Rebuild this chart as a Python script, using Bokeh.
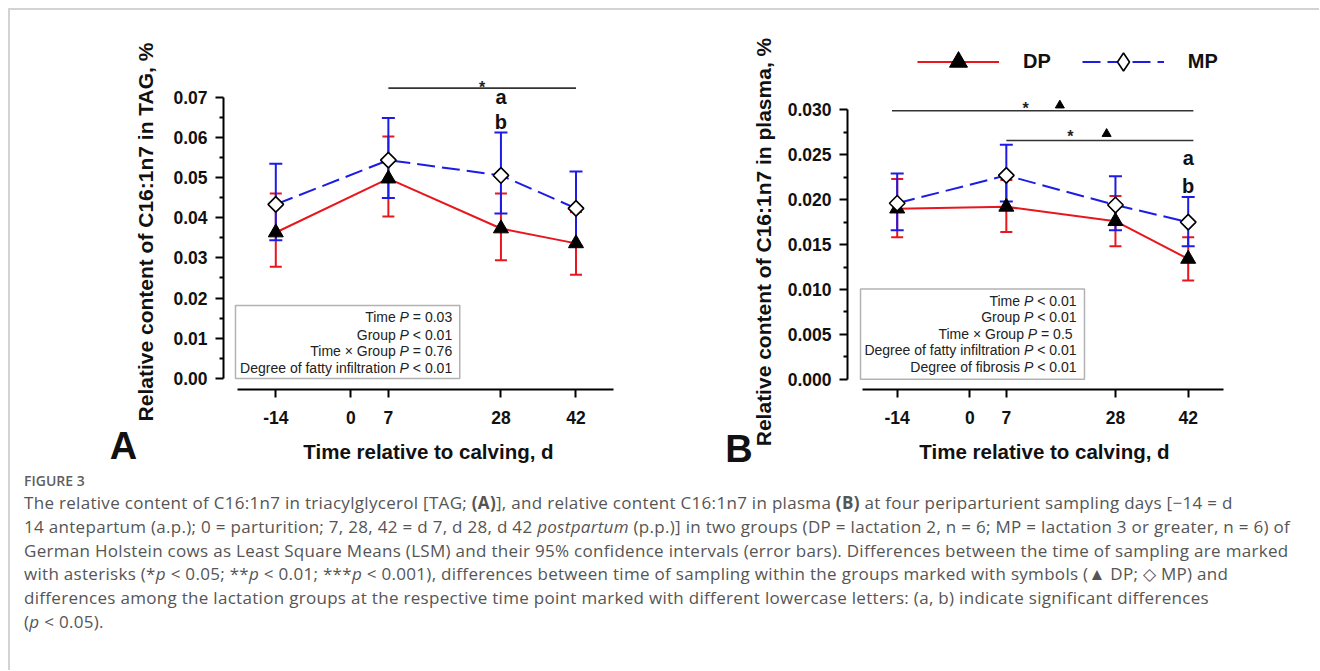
import math
from bokeh.plotting import figure
from bokeh.models import (ColumnDataSource, Whisker, TeeHead, FixedTicker, NumeralTickFormatter,
                          BoxAnnotation, Legend, LegendItem, Div, Range1d)
from bokeh.layouts import column, row
from bokeh.core.properties import value
from bokeh.embed import file_html
from bokeh.resources import INLINE

# ---------------- data ----------------
days = [-14, 7, 28, 42]
x_ticks = [-14, 0, 7, 28, 42]
x_tick_labels = {-14: "-14", 0: "0", 7: "7", 28: "28", 42: "42"}

# Panel A: C16:1n7 in TAG, %
a_dp = [0.0363, 0.0497, 0.0373, 0.0336]
a_dp_lo = [0.0278, 0.0403, 0.0294, 0.0258]
a_dp_hi = [0.0460, 0.0602, 0.0460, 0.0414]
a_mp = [0.0433, 0.0543, 0.0505, 0.0423]
a_mp_lo = [0.0344, 0.0449, 0.0410, 0.0330]
a_mp_hi = [0.0534, 0.0648, 0.0612, 0.0515]
a_yticks = [0.00, 0.01, 0.02, 0.03, 0.04, 0.05, 0.06, 0.07]
a_yminor = [0.005, 0.015, 0.025, 0.035, 0.045, 0.055, 0.065]
a_stats_pre = ["Time", "Group", "Time × Group", "Degree of fatty infiltration"]
a_stats_suf = ["= 0.03", "< 0.01", "= 0.76", "< 0.01"]
a_sig_x = [7, 42]
a_sig_y = 0.0722
a_letters = ["a", "b"]
a_letter_y = [0.07005, 0.06371]
a_ylabel = "Relative content of C16:1n7 in TAG, %"

# Panel B: C16:1n7 in plasma, %
b_dp = [0.0190, 0.0192, 0.0176, 0.0134]
b_dp_lo = [0.0158, 0.0164, 0.0148, 0.0110]
b_dp_hi = [0.0223, 0.0222, 0.0204, 0.0158]
b_mp = [0.0196, 0.0227, 0.0194, 0.0175]
b_mp_lo = [0.0166, 0.0198, 0.0166, 0.0148]
b_mp_hi = [0.0229, 0.0261, 0.0226, 0.0203]
b_yticks = [0.000, 0.005, 0.010, 0.015, 0.020, 0.025, 0.030]
b_yminor = [0.0025, 0.0075, 0.0125, 0.0175, 0.0225, 0.0275]
b_stats_pre = ["Time", "Group", "Time × Group", "Degree of fatty infiltration", "Degree of fibrosis"]
b_stats_suf = ["< 0.01", "< 0.01", "= 0.5\u00a0", "< 0.01", "< 0.01"]
b_sig1_x = [-15, 43]
b_sig1_y = 0.0299
b_sig2_x = [7, 43]
b_sig2_y = 0.02658
b_letters = ["a", "b"]
b_letter_y = [0.02467, 0.0215]
b_ylabel = "Relative content of C16:1n7 in plasma, %"

RED = "#e8161d"
BLUE = "#1c1ce6"
FONT = "Liberation Sans"
FRAME = "#d3d3d3"

# Arial / Liberation Sans advance widths (1/1000 em) for right-aligned mixed-style text
AW = {' ': 278, '\u00a0': 278, '=': 584, '<': 584, '.': 278, '×': 584, 'P': 667, 'T': 611, 'i': 222,
      'm': 833, 'e': 556, 'G': 778, 'r': 333, 'o': 556, 'u': 556, 'p': 556, 'D': 722, 'g': 556,
      'f': 278, 'a': 556, 't': 278, 'y': 500, 'n': 556, 'l': 222, 's': 500, 'b': 556}
for d in "0123456789":
    AW[d] = 556


def tw(s, size=14.0):
    return sum(AW.get(c, 556) for c in s) / 1000.0 * size


def make_fig(xr, yr, w, h, mbl, mbr, mbt, mbb):
    p = figure(width=w, height=h, x_range=Range1d(*xr), y_range=Range1d(*yr), title=None,
               output_backend="svg", toolbar_location=None, margin=0,
               min_border_left=mbl, min_border_right=mbr, min_border_top=mbt, min_border_bottom=mbb)
    p.outline_line_color = None
    p.xgrid.visible = False
    p.ygrid.visible = False
    p.background_fill_color = "white"
    p.border_fill_color = "white"
    return p


def style_axes(p, yticks, yminor, yfmt, ybounds, xbounds):
    xa = p.xaxis[0]
    ya = p.yaxis[0]
    for ax in (xa, ya):
        ax.axis_line_width = 2
        ax.axis_line_color = "black"
        ax.major_tick_line_width = 2
        ax.major_tick_line_color = "black"
        ax.minor_tick_line_width = 2
        ax.minor_tick_line_color = "black"
        ax.major_tick_in = 0
        ax.major_tick_out = 8
        ax.minor_tick_in = 0
        ax.minor_tick_out = 4
        ax.major_label_text_font = FONT
        ax.major_label_text_font_style = "bold"
        ax.major_label_text_font_size = "17.5px"
        ax.major_label_text_color = "#111111"
        ax.axis_label_text_font = FONT
        ax.axis_label_text_font_style = "bold"
        ax.axis_label_text_color = "#111111"
    xa.ticker = FixedTicker(ticks=x_ticks, minor_ticks=[])
    xa.major_label_overrides = x_tick_labels
    xa.bounds = xbounds
    xa.major_label_standoff = 13
    xa.axis_label = "Time relative to calving, d"
    xa.axis_label_text_font_size = "20.5px"
    xa.axis_label_standoff = 13
    ya.ticker = FixedTicker(ticks=yticks, minor_ticks=yminor)
    ya.formatter = NumeralTickFormatter(format=yfmt)
    ya.bounds = ybounds
    ya.major_label_standoff = 8


def draw_series(p, dp, dp_lo, dp_hi, mp, mp_lo, mp_hi):
    s_dp = ColumnDataSource(dict(x=days, y=dp, lo=dp_lo, hi=dp_hi))
    s_mp = ColumnDataSource(dict(x=days, y=mp, lo=mp_lo, hi=mp_hi))
    w_dp = Whisker(source=s_dp, base="x", lower="lo", upper="hi", line_color=RED, line_width=2,
                   lower_head=TeeHead(size=12, line_color=RED, line_width=2),
                   upper_head=TeeHead(size=12, line_color=RED, line_width=2), level="underlay")
    w_mp = Whisker(source=s_mp, base="x", lower="lo", upper="hi", line_color=BLUE, line_width=2,
                   lower_head=TeeHead(size=13, line_color=BLUE, line_width=2),
                   upper_head=TeeHead(size=13, line_color=BLUE, line_width=2), level="underlay")
    p.add_layout(w_dp)
    p.add_layout(w_mp)
    l_dp = p.line("x", "y", source=s_dp, line_color=RED, line_width=2)
    l_mp = p.line("x", "y", source=s_mp, line_color=BLUE, line_width=2, line_dash="18 7")
    m_dp = p.scatter("x", "y", source=s_dp, marker="triangle", size=15,
                     fill_color="black", line_color="black", line_width=1)
    # zero-size diamond glyph on the MP points: only used as the legend key
    # (legend markers are drawn unrotated, so the rotated square cannot serve as key)
    k_mp = p.scatter("x", "y", source=s_mp, marker="diamond", size=0,
                     fill_color="white", line_color="black", line_width=1.6)
    m_mp = p.scatter("x", "y", source=s_mp, marker="square", angle=math.pi / 4, size=11,
                     fill_color="white", line_color="black", line_width=1.6)
    return l_dp, m_dp, l_mp, k_mp


def draw_stats(p, x_right, ys, pre, suf, box):
    size = 14.0
    reg = dict(x=[], y=[], t=[], off=[])
    ita = dict(x=[], y=[], t=[], off=[])
    for yv, a, b in zip(ys, pre, suf):
        ws = tw(b, size)
        wsp = tw(" ", size)
        wp = tw("P", size)
        reg["x"] += [x_right, x_right]
        reg["y"] += [yv, yv]
        reg["t"] += [b, a]
        reg["off"] += [0, -(ws + 2 * wsp + wp)]
        ita["x"].append(x_right)
        ita["y"].append(yv)
        ita["t"].append("P")
        ita["off"].append(-(ws + wsp))
    p.text("x", "y", text="t", x_offset="off", source=ColumnDataSource(reg),
           text_font=value(FONT), text_font_size="14px", text_align="right",
           text_baseline="middle", text_color="#222222")
    p.text("x", "y", text="t", x_offset="off", source=ColumnDataSource(ita),
           text_font=value(FONT), text_font_size="14px", text_font_style="italic",
           text_align="right", text_baseline="middle", text_color="#222222")
    p.add_layout(BoxAnnotation(left=box[0], right=box[1], bottom=box[2], top=box[3],
                               fill_alpha=0, line_color="black", line_width=1.5))


def side_div(width, height, title, tx, ty, letter, lx, ltop, border_left):
    bl = "border-left:2px solid %s;" % FRAME if border_left else ""
    html = (
        '<div style="position:relative;box-sizing:border-box;width:%dpx;height:%dpx;%s'
        'font-family:\'Liberation Sans\';font-weight:bold;color:#111111;">'
        '<div style="position:absolute;left:%.1fpx;top:%.1fpx;transform:translate(-50%%,-50%%) rotate(-90deg);'
        'font-size:21px;line-height:21px;white-space:nowrap;">%s</div>'
        '<div style="position:absolute;left:%.1fpx;top:%.1fpx;transform:translateX(-50%%);'
        'font-size:38px;line-height:38px;white-space:nowrap;">%s</div>'
        '</div>'
    ) % (width, height, bl, tx, ty, title, lx, ltop, letter)
    return Div(text=html, width=width, height=height, margin=0)


PANEL_H = 444

# ---------------- Panel A ----------------
pA = make_fig((-23.756, 52.727), (-0.002735, 0.086537), 490, PANEL_H, 63, 17, 2, 83)
style_axes(pA, a_yticks, a_yminor, "0.00", (0, 0.07), (-21.2, 49.0))
draw_series(pA, a_dp, a_dp_lo, a_dp_hi, a_mp, a_mp_lo, a_mp_hi)
draw_stats(pA, 18.9, [0.01524, 0.01094, 0.00679, 0.00266], a_stats_pre, a_stats_suf,
           (-21.52, 20.32, 0.0, 0.01815))
pA.line(a_sig_x, [a_sig_y] * 2, line_color="#333333", line_width=1.6)
pA.text([sum(a_sig_x) / 2], [a_sig_y + 0.0002], text=["*"], text_font=value(FONT),
        text_font_size="16px", text_font_style="bold", text_align="center",
        text_baseline="middle", text_color="#222222")
pA.text([28, 28], a_letter_y, text=a_letters, text_font=value(FONT), text_font_size="20px",
        text_font_style="bold", text_align="center", text_baseline="middle", text_color="#111111")

# ---------------- Panel B ----------------
pB = make_fig((-23.564, 52.257), (-0.0011373, 0.038833), 539, PANEL_H, 67, 78, 2, 80)
style_axes(pB, b_yticks, b_yminor, "0.000", (0, 0.030), (-20.7, 48.85))
l_dp, m_dp, l_mp, k_mp = draw_series(pB, b_dp, b_dp_lo, b_dp_hi, b_mp, b_mp_lo, b_mp_hi)
draw_stats(pB, 20.5, [0.00876, 0.00692, 0.00508, 0.00325, 0.00140], b_stats_pre, b_stats_suf,
           (-21.06, 22.04, 0.0, 0.01004))
pB.line(b_sig1_x, [b_sig1_y] * 2, line_color="#333333", line_width=1.6)
pB.line(b_sig2_x, [b_sig2_y] * 2, line_color="#333333", line_width=1.6)
pB.text([10.7, 19.3], [0.03011, 0.02699], text=["*", "*"], text_font=value(FONT),
        text_font_size="16px", text_font_style="bold", text_align="center",
        text_baseline="middle", text_color="#222222")
pB.scatter([17.3, 26.3], [0.0305, 0.02733], marker="triangle", size=9,
           fill_color="black", line_color="black")
pB.text([42, 42], b_letter_y, text=b_letters, text_font=value(FONT), text_font_size="20px",
        text_font_style="bold", text_align="center", text_baseline="middle", text_color="#111111")

legend = Legend(items=[LegendItem(label="DP", renderers=[l_dp, m_dp]),
                       LegendItem(label="MP", renderers=[l_mp, k_mp])],
                orientation="horizontal", location=(70, 305), glyph_width=82, glyph_height=45,
                label_standoff=24, spacing=31, padding=0, margin=0,
                border_line_color=None, background_fill_alpha=0,
                label_text_font=FONT, label_text_font_style="bold", label_text_font_size="20px",
                label_text_color="#111111")
pB.add_layout(legend)

# side areas holding the rotated y titles and panel letters
divA = side_div(152, PANEL_H, a_ylabel, 135.0, 203.5, "A", 113.5, 398.8, True)
divB = side_div(130, PANEL_H, b_ylabel, 113.0, 214.0, "B", 89.0, 401.5, False)

# ---------------- caption ----------------
cap_lines = [
    "The relative content of C16:1n7 in triacylglycerol [TAG; <b>(A)</b>], and relative content C16:1n7 in plasma <b>(B)</b> at four periparturient sampling days [\u221214 = d",
    "14 antepartum (a.p.); 0 = parturition; 7, 28, 42 = d 7, d 28, d 42 <i>postpartum</i> (p.p.)] in two groups (DP = lactation 2, n = 6; MP = lactation 3 or greater, n = 6) of",
    "German Holstein cows as Least Square Means (LSM) and their 95% confidence intervals (error bars). Differences between the time of sampling are marked",
    "with asterisks (*<i>p</i> &lt; 0.05; **<i>p</i> &lt; 0.01; ***<i>p</i> &lt; 0.001), differences between time of sampling within the groups marked with symbols (\u25b2 DP; \u25c7 MP) and",
    "differences among the lactation groups at the respective time point marked with different lowercase letters: (a, b) indicate significant differences",
    "(<i>p</i> &lt; 0.05).",
]
CAP_H = 198
cap_html = (
    '<div style="box-sizing:border-box;width:1311px;height:%dpx;border-left:2px solid %s;'
    'padding:1px 0 0 14px; color:#555555; white-space:nowrap;">'
    '<div style="font-family:\'Open Sans\'; font-weight:600; font-size:14px; line-height:16px; '
    'margin-bottom:2px; color:#5f5f5f;">FIGURE 3</div>'
    '<div style="font-family:\'Open Sans\'; font-size:17px; letter-spacing:0.3px; line-height:23.8px;">'
    % (CAP_H, FRAME) + "<br>".join(cap_lines) + "</div></div>"
)
caption = Div(text=cap_html, width=1311, height=CAP_H, margin=0)

top_div = Div(text='<div style="box-sizing:border-box;width:1311px;height:20px;'
                   'border-top:2px solid %s;border-left:2px solid %s;"></div>' % (FRAME, FRAME),
              width=1311, height=20, margin=0)

panels = row(divA, pA, divB, pB, spacing=0)
content = column(top_div, panels, caption, spacing=0)
top_space = Div(text="", width=1319, height=8, margin=0)
left_space = Div(text="", width=8, height=20 + PANEL_H + CAP_H, margin=0)
root = column(top_space, row(left_space, content, spacing=0), spacing=0)

open("out.html", "w").write(file_html(root, INLINE))
